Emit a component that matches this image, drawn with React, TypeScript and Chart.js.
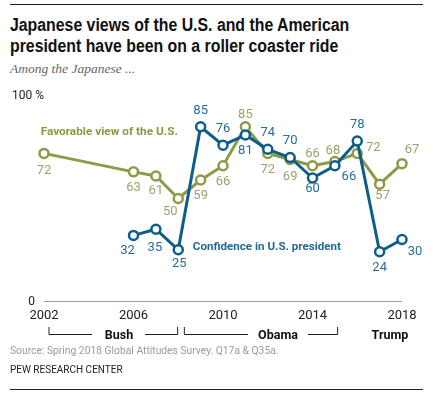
import React, { useEffect, useRef } from "react";
import { Chart, registerables } from "chart.js";

Chart.register(...registerables);

const years = [2002, 2006, 2007, 2008, 2009, 2010, 2011, 2012, 2013, 2014, 2015, 2016, 2017, 2018];
const favorable = [72, 63, 61, 50, 59, 66, 85, 72, 69, 66, 68, 72, 57, 67];
const confidence = [null, 32, 35, 25, 85, 76, 81, 74, 70, 60, 66, 78, 24, 30];
const xTicks = [2002, 2006, 2010, 2014, 2018];

// label offsets (px) relative to each point
const favOffsets = [[0, 17], [0, 16], [0, 15], [-8, 13], [0, 16], [0, 16], [0, -12], [0, 16], [0, 17], [0, -12], [-2, -11], [16, -6], [3, 12], [10, -14]];
const confOffsets = [null, [-6, 15], [-1, 18], [1, 14], [0, -16], [0, -16], [0, 16], [0, -17], [0, -17], [0, 11], [14, 11], [0, -16], [0, 16], [13, 12]];

const OLIVE = "#8f9a48";
const OLIVE_TXT = "#a09f6c";
const BLUE = "#0d5d89";
const BLUE_TXT = "#2a6d94";
const FONT = "Roboto, 'Liberation Sans', Arial, sans-serif";

const overlay = {
  id: "overlay",
  beforeDatasetsDraw(chart: any) {
    const { ctx, scales } = chart;
    const xs = scales.x;
    const ys = scales.y;
    const y0 = ys.getPixelForValue(0);
    ctx.save();
    ctx.strokeStyle = "#9a9a9a";
    ctx.lineWidth = 1;
    ctx.beginPath();
    ctx.moveTo(xs.getPixelForValue(2002), y0 + 0.5);
    ctx.lineTo(xs.getPixelForValue(2018), y0 + 0.5);
    ctx.stroke();
    ctx.fillStyle = "#222";
    ctx.font = `12px ${FONT}`;
    ctx.textBaseline = "middle";
    ctx.textAlign = "left";
    ctx.fillText("100 %", 12, ys.getPixelForValue(100));
    ctx.textAlign = "right";
    ctx.fillText("0", 35, y0 + 1);
    ctx.textAlign = "center";
    ctx.font = `13px ${FONT}`;
    xTicks.forEach((t) => ctx.fillText(String(t), xs.getPixelForValue(t), y0 + 15));
    // president brackets
    const by = y0 + 33;
    const top = y0 + 26;
    ctx.strokeStyle = "#222";
    ctx.lineWidth = 1;
    const bracket = (a: number, b: number, g1: number, g2: number) => {
      ctx.beginPath();
      ctx.moveTo(a + 0.5, top);
      ctx.lineTo(a + 0.5, by + 0.5);
      ctx.lineTo(g1, by + 0.5);
      ctx.moveTo(g2, by + 0.5);
      ctx.lineTo(b + 0.5, by + 0.5);
      ctx.lineTo(b + 0.5, top);
      ctx.stroke();
    };
    bracket(xs.getPixelForValue(2002.2), xs.getPixelForValue(2007.95), 92, 145);
    bracket(xs.getPixelForValue(2008.25), xs.getPixelForValue(2015.1), 248, 308);
    ctx.fillStyle = "#111";
    ctx.font = `bold 12.5px ${FONT}`;
    ctx.fillText("Bush", 119, by + 2);
    ctx.fillText("Obama", 278, by + 2);
    ctx.fillText("Trump", 390, by + 2);
    ctx.restore();
  },
  afterDatasetsDraw(chart: any) {
    const { ctx, scales } = chart;
    const xs = scales.x;
    const ys = scales.y;
    ctx.save();
    ctx.textAlign = "center";
    ctx.textBaseline = "middle";
    ctx.font = `13px ${FONT}`;
    ctx.fillStyle = OLIVE_TXT;
    favorable.forEach((v, i) => {
      const o = favOffsets[i];
      ctx.fillText(String(v), xs.getPixelForValue(years[i]) + o[0], ys.getPixelForValue(v) + o[1]);
    });
    ctx.fillStyle = BLUE_TXT;
    confidence.forEach((v, i) => {
      const o = confOffsets[i];
      if (v == null || !o) return;
      ctx.fillText(String(v), xs.getPixelForValue(years[i]) + o[0], ys.getPixelForValue(v) + o[1]);
    });
    ctx.textAlign = "left";
    ctx.font = `bold 11.8px ${FONT}`;
    ctx.fillStyle = "#8a9840";
    ctx.fillText("Favorable view of the U.S.", xs.getPixelForValue(2001.85), ys.getPixelForValue(82.4));
    ctx.font = `bold 11.6px ${FONT}`;
    ctx.fillStyle = "#1f6a94";
    ctx.fillText("Confidence in U.S. president", xs.getPixelForValue(2008.65), ys.getPixelForValue(26.3));
    ctx.restore();
  },
};

export default function App() {
  const ref = useRef<HTMLCanvasElement>(null);
  useEffect(() => {
    if (!ref.current) return;
    const chart = new Chart(ref.current, {
      type: "line",
      data: {
        datasets: [
          {
            label: "Confidence in U.S. president",
            data: years.map((y, i) => ({ x: y, y: confidence[i] })),
            borderColor: BLUE,
            backgroundColor: "#fff",
            borderWidth: 3,
            pointRadius: 4.5,
            pointBorderWidth: 2.5,
            pointBackgroundColor: "#fff",
            pointBorderColor: BLUE,
            spanGaps: false,
            clip: false,
          },
          {
            label: "Favorable view of the U.S.",
            data: years.map((y, i) => ({ x: y, y: favorable[i] })),
            borderColor: OLIVE,
            backgroundColor: "#fff",
            borderWidth: 3,
            pointRadius: 4.5,
            pointBorderWidth: 2.5,
            pointBackgroundColor: "#fff",
            pointBorderColor: OLIVE,
            clip: false,
          },
        ],
      },
      options: {
        animation: false,
        responsive: false,
        layout: { padding: { left: 44, right: 31, top: 8, bottom: 47 } },
        plugins: { legend: { display: false }, tooltip: { enabled: false } },
        scales: {
          x: { type: "linear", min: 2002, max: 2018, display: false },
          y: { min: 0, max: 100, display: false },
        },
      },
      plugins: [overlay],
    });
    return () => chart.destroy();
  }, []);

  return (
    <div style={{ position: "absolute", left: 0, top: 0, width: 433, height: 393, background: "#fff", overflow: "hidden", fontFamily: FONT }}>
      <div style={{ position: "absolute", left: 10, top: 4, width: 413, borderTop: "1.5px solid #222" }} />
      <div style={{ position: "absolute", left: 10, top: 15, width: 460, fontWeight: 700, fontSize: 18, lineHeight: "21px", color: "#111", fontFamily: "'Liberation Sans', Arial, sans-serif", transform: "scaleX(0.88)", transformOrigin: "left top" }}>
        Japanese views of the U.S. and the American<br />president have been on a roller coaster ride
      </div>
      <div style={{ position: "absolute", left: 10, top: 61, fontStyle: "italic", fontSize: 13.5, color: "#666", fontFamily: "'Liberation Serif', 'DejaVu Serif', serif" }}>
        Among the Japanese ...
      </div>
      <canvas ref={ref} width={433} height={260} style={{ position: "absolute", left: 0, top: 88, width: 433, height: 260 }} />
      <div style={{ position: "absolute", left: 10, top: 344, fontSize: 10.3, color: "#9a9a9a" }}>
        Source: Spring 2018 Global Attitudes Survey. Q17a &amp; Q35a.
      </div>
      <div style={{ position: "absolute", left: 10, top: 364, fontSize: 10, color: "#222" }}>
        PEW RESEARCH CENTER
      </div>
      <div style={{ position: "absolute", left: 10, top: 389, width: 413, borderTop: "1px solid #222" }} />
    </div>
  );
}
